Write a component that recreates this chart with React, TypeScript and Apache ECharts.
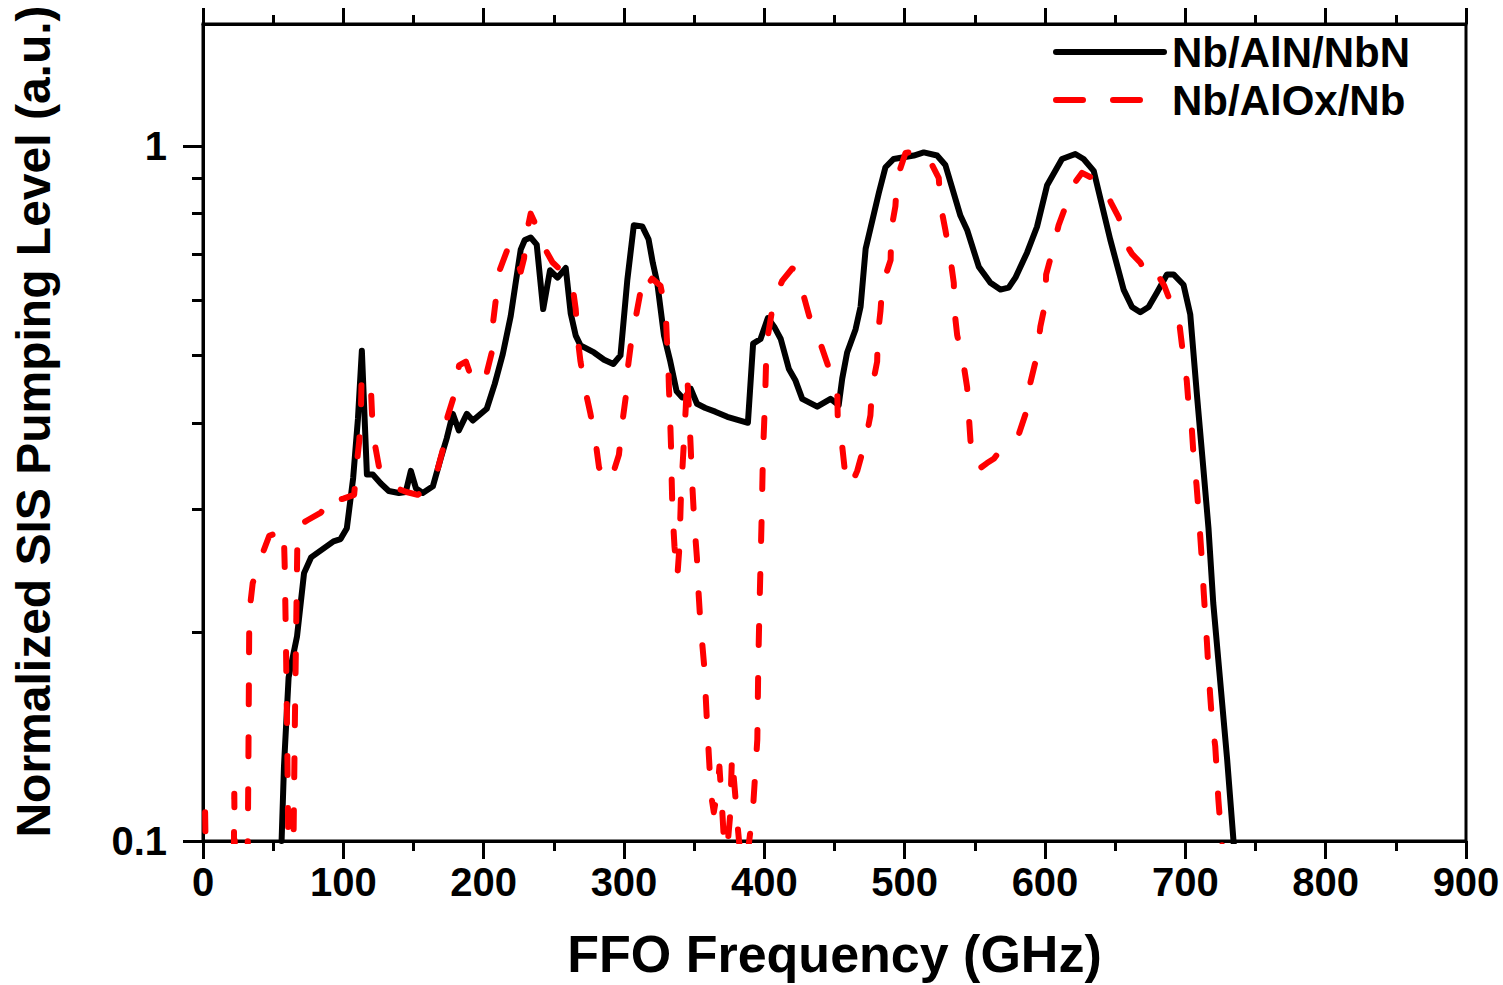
import React, { useEffect, useRef } from "react";
import * as echarts from "echarts";

// ---- Data ----
const X_TICKS = [0, 100, 200, 300, 400, 500, 600, 700, 800, 900];
const Y_LABEL_VALUES = [0.1, 1];
const Y_MINOR_TICKS = [0.2, 0.3, 0.4, 0.5, 0.6, 0.7, 0.8, 0.9];

const SERIES_NAMES = ["Nb/AlN/NbN", "Nb/AlOx/Nb"];

// Nb/AlN/NbN (black, solid)
const ALN_FREQ = [
  56, 57.7, 61, 67, 72, 77, 84, 93, 98, 102.5, 107, 110.4, 113.2, 116.8, 121, 126.7,
  132.4, 139.6, 144.5, 148.1, 151.7, 156.6, 163.8, 169.5, 173.7, 178, 182.3, 188,
  192.3, 202.2, 207.9, 213.6, 219.3, 222.5, 226.4, 229.3, 233.5, 237.8, 242.4, 247.3,
  252.6, 258.5, 262, 265.6, 269, 278.6, 285.8, 292.4, 297.5, 302.4, 307, 313, 317.5,
  320.5, 323.7, 328.5, 333, 337.5, 341.5, 344, 347.5, 352, 358, 365, 373.6, 388.3,
  392, 397.3, 402.5, 407, 411.7, 417.5, 422.2, 427, 437.7, 447.2, 453, 455.5, 459,
  465, 468.6, 472.2, 481.6, 486.3, 492.2, 506.5, 513.6, 523.1, 529, 539.7, 544.5,
  552.8, 561.1, 568.2, 574.1, 578.9, 587.2, 594.3, 601.5, 612.1, 621.6, 627.5, 634.7,
  646.5, 656, 662, 667.9, 673.8, 679.8, 686.9, 691.6, 698.7, 703.5, 708.3, 713,
  716.5, 719.9, 729.8, 734.5,
];
const ALN_LEVEL = [
  0.1, 0.128, 0.172, 0.197, 0.243, 0.256, 0.262, 0.27, 0.272, 0.282, 0.333, 0.405,
  0.508, 0.337, 0.337, 0.327, 0.319, 0.317, 0.318, 0.341, 0.322, 0.317, 0.324, 0.356,
  0.38, 0.412, 0.39, 0.412, 0.403, 0.419, 0.455, 0.502, 0.57, 0.63, 0.71, 0.733,
  0.739, 0.722, 0.583, 0.663, 0.647, 0.668, 0.575, 0.534, 0.517, 0.505, 0.493, 0.486,
  0.5, 0.643, 0.77, 0.767, 0.735, 0.68, 0.636, 0.534, 0.49, 0.444, 0.435, 0.436,
  0.448, 0.426, 0.42, 0.415, 0.408, 0.4, 0.52, 0.528, 0.566, 0.55, 0.528, 0.478,
  0.46, 0.433, 0.422, 0.433, 0.424, 0.463, 0.505, 0.545, 0.588, 0.712, 0.857, 0.933,
  0.959, 0.97, 0.98, 0.97, 0.94, 0.795, 0.758, 0.671, 0.636, 0.622, 0.626, 0.647,
  0.703, 0.766, 0.879, 0.959, 0.975, 0.959, 0.922, 0.734, 0.622, 0.587, 0.577, 0.587,
  0.616, 0.654, 0.654, 0.632, 0.573, 0.438, 0.341, 0.282, 0.22, 0.131, 0.099,
];

// Nb/AlOx/Nb (red, dashed)
const ALOX_FREQ = [
  1.5, 3, 21.5, 22.3, 23.2, 31.3, 32.3, 33, 35.4, 40.1, 47.2, 55.5, 57.5, 58.2, 59,
  60, 61, 63.5, 64.5, 65.5, 66.5, 67.4, 75, 84, 93.5, 95.9, 100, 107.7, 110.1, 111.3,
  112.5, 113, 117.3, 119.6, 120.5, 122, 125.5, 131, 136.2, 145, 153, 160, 167.1,
  171.8, 174.2, 179, 182.5, 187.3, 192, 197, 201.5, 206.3, 206.7, 208.6, 211, 218,
  222, 226.4, 228.8, 230, 233.5, 236, 240.7, 249, 256, 263.2, 265.6, 266.8, 269,
  272.7, 276, 279.8, 282.2, 287, 290.5, 296.4, 298.8, 301.2, 302.4, 304.8, 308.3,
  311.9, 313, 316.6, 320, 326, 329.7, 330.5, 331.5, 332, 332.8, 333.5, 334, 334.5,
  336, 338, 339.5, 340.5, 341.5, 342.5, 344, 345, 346, 347.5, 348.5, 349.6, 350.5,
  352, 353, 354.2, 355.5, 357, 358, 359, 360, 361, 362.5, 364, 366.5, 368, 369.5,
  371, 373.5, 375.5, 377, 378, 379.5, 381, 383, 387, 390, 392, 393.5, 395, 395.7,
  396.5, 397.5, 398.3, 399, 400.5, 401.6, 406.7, 412.7, 419.9, 423.4, 427, 433, 440,
  447, 452, 452.4, 455.5, 457.8, 461.4, 466.2, 472, 475.6, 476.8, 480.4, 480.8,
  482.8, 484, 490, 490.4, 493.4, 494.6, 500.6, 508, 514.8, 524.3, 525.5, 529, 532.6,
  535, 535.5, 537.4, 542, 544.5, 545.7, 546.9, 549, 552.8, 558.7, 563.5, 568.2, 575,
  581.3, 587.2, 589.6, 594.3, 596.7, 600.3, 600.8, 605, 609.7, 615.7, 621, 626.4,
  632.3, 641.8, 647, 652.5, 657.2, 662, 668, 672.7, 676, 679.8, 685, 689, 696, 698.5,
  701, 702.5, 704.7, 706, 708, 709.3, 710.6, 712, 713, 714.2, 715.4, 716.5, 717.7,
  719, 721.3, 722.5, 723.5, 725, 726, 729,
];
const ALOX_LEVEL = [
  0.11, 0.07, 0.07, 0.117, 0.07, 0.07, 0.125, 0.213, 0.235, 0.252, 0.275, 0.279,
  0.282, 0.25, 0.2, 0.14, 0.09, 0.07, 0.1, 0.15, 0.21, 0.284, 0.29, 0.297, 0.316,
  0.31, 0.311, 0.315, 0.357, 0.376, 0.41, 0.464, 0.466, 0.45, 0.41, 0.377, 0.345,
  0.333, 0.323, 0.318, 0.315, 0.322, 0.342, 0.372, 0.408, 0.438, 0.484, 0.49, 0.46,
  0.455, 0.466, 0.51, 0.558, 0.6, 0.66, 0.72, 0.71, 0.66, 0.69, 0.74, 0.8, 0.78,
  0.73, 0.681, 0.66, 0.632, 0.583, 0.533, 0.49, 0.443, 0.413, 0.375, 0.345, 0.33,
  0.33, 0.36, 0.4, 0.435, 0.474, 0.517, 0.566, 0.62, 0.647, 0.63, 0.645, 0.63, 0.58,
  0.53, 0.49, 0.45, 0.41, 0.37, 0.33, 0.3, 0.265, 0.24, 0.265, 0.31, 0.34, 0.37,
  0.42, 0.47, 0.43, 0.37, 0.33, 0.3, 0.28, 0.255, 0.23, 0.21, 0.195, 0.18, 0.165,
  0.15, 0.138, 0.127, 0.115, 0.11, 0.118, 0.128, 0.115, 0.102, 0.097, 0.108, 0.133,
  0.125, 0.115, 0.105, 0.095, 0.092, 0.103, 0.112, 0.125, 0.14, 0.18, 0.215, 0.26,
  0.305, 0.36, 0.43, 0.52, 0.6, 0.64, 0.667, 0.662, 0.62, 0.56, 0.52, 0.473, 0.44,
  0.398, 0.37, 0.335, 0.324, 0.341, 0.376, 0.41, 0.45, 0.49, 0.533, 0.58, 0.63,
  0.686, 0.758, 0.82, 0.9, 0.978, 0.985, 0.982, 0.9, 0.825, 0.758, 0.69, 0.636, 0.58,
  0.535, 0.485, 0.45, 0.41, 0.377, 0.355, 0.343, 0.35, 0.355, 0.365, 0.372, 0.385,
  0.418, 0.457, 0.5, 0.55, 0.596, 0.654, 0.703, 0.77, 0.83, 0.885, 0.916, 0.903,
  0.876, 0.83, 0.79, 0.726, 0.7, 0.68, 0.649, 0.66, 0.656, 0.63, 0.6, 0.55, 0.5,
  0.46, 0.42, 0.39, 0.355, 0.325, 0.3, 0.275, 0.25, 0.23, 0.21, 0.193, 0.176, 0.162,
  0.149, 0.137, 0.125, 0.115, 0.105, 0.1, 0.08,
];

const FONT = "'Liberation Sans', Arial, Helvetica, sans-serif";

function zip(xs: number[], ys: number[]) {
  return xs.map((x, i) => [x, ys[i]]);
}

export default function App() {
  const ref = useRef<HTMLDivElement>(null);

  useEffect(() => {
    if (!ref.current) return;
    const chart = echarts.init(ref.current, null, { renderer: "svg" });

    const axisLineStyle = { color: "#000", width: 3 };
    const hiddenSymbol = { opacity: 0, color: "rgba(0,0,0,0)", borderWidth: 0 };

    const xBase = {
      type: "value" as const,
      min: X_TICKS[0],
      max: X_TICKS[X_TICKS.length - 1],
      interval: X_TICKS[1] - X_TICKS[0],
      splitLine: { show: false },
      axisLine: { show: true, lineStyle: axisLineStyle },
    };

    const option: any = {
      animation: false,
      backgroundColor: "#fff",
      grid: {
        left: 203,
        right: 37,
        top: 24,
        bottom: 140,
        show: true,
        borderColor: "#000",
        borderWidth: 3,
        backgroundColor: "transparent",
      },
      legend: {
        show: true,
        orient: "vertical",
        left: 1053,
        top: 31,
        padding: 0,
        itemWidth: 108,
        itemHeight: 2,
        itemGap: 6,
        itemStyle: hiddenSymbol,
        data: [
          {
            name: SERIES_NAMES[0],
            itemStyle: hiddenSymbol,
            lineStyle: { color: "#000", width: 6, type: "solid", cap: "round" },
          },
          {
            name: SERIES_NAMES[1],
            itemStyle: hiddenSymbol,
            lineStyle: { color: "#ff0000", width: 6, type: [27, 30], cap: "round" },
          },
        ],
        textStyle: {
          fontFamily: FONT,
          fontWeight: "bold",
          fontSize: 42,
          color: "#000",
          lineHeight: 42,
          padding: [0, 0, 0, 3],
        },
      },
      xAxis: [
        {
          ...xBase,
          position: "bottom",
          axisTick: { show: true, length: 18, inside: false, lineStyle: axisLineStyle },
          minorTick: { show: true, splitNumber: 2, length: 10, lineStyle: axisLineStyle },
          axisLabel: {
            show: true,
            margin: 21,
            fontFamily: FONT,
            fontWeight: "bold",
            fontSize: 40,
            color: "#000",
          },
          name: "FFO Frequency (GHz)",
          nameLocation: "middle",
          nameGap: 87,
          nameTextStyle: {
            fontFamily: FONT,
            fontWeight: "bold",
            fontSize: 52,
            color: "#000",
          },
        },
        {
          ...xBase,
          position: "top",
          axisTick: { show: true, length: 16, inside: false, lineStyle: axisLineStyle },
          minorTick: { show: true, splitNumber: 2, length: 9, lineStyle: axisLineStyle },
          axisLabel: { show: false },
        },
      ],
      yAxis: [
        {
          type: "log",
          logBase: 10,
          min: 0.1,
          max: 1.5,
          position: "left",
          splitLine: { show: false },
          axisLine: { show: true, lineStyle: axisLineStyle },
          axisTick: {
            show: true,
            length: 20,
            inside: false,
            lineStyle: axisLineStyle,
            customValues: Y_LABEL_VALUES,
          },
          axisLabel: {
            show: true,
            margin: 36,
            fontFamily: FONT,
            fontWeight: "bold",
            fontSize: 40,
            color: "#000",
            customValues: Y_LABEL_VALUES,
            formatter: (v: number) => (Math.abs(v - 1) < 1e-9 ? "1" : "0.1"),
          },
          name: "Normalized SIS Pumping Level (a.u.)",
          nameLocation: "middle",
          nameGap: 146,
          nameTextStyle: {
            fontFamily: FONT,
            fontWeight: "bold",
            fontSize: 48,
            color: "#000",
            padding: [0, 0, 0, 22],
          },
        },
        {
          type: "log",
          logBase: 10,
          min: 0.1,
          max: 1.5,
          position: "left",
          splitLine: { show: false },
          axisLine: { show: false },
          axisLabel: { show: false },
          axisTick: {
            show: true,
            length: 11,
            inside: false,
            lineStyle: axisLineStyle,
            customValues: Y_MINOR_TICKS,
          },
        },
      ],
      series: [
        {
          name: SERIES_NAMES[0],
          type: "line",
          xAxisIndex: 0,
          yAxisIndex: 0,
          data: zip(ALN_FREQ, ALN_LEVEL),
          symbol: "none",
          clip: true,
          lineStyle: { color: "#000", width: 6, type: "solid", join: "round", cap: "round" },
          itemStyle: { color: "#000" },
          z: 3,
        },
        {
          name: SERIES_NAMES[1],
          type: "line",
          xAxisIndex: 0,
          yAxisIndex: 0,
          data: zip(ALOX_FREQ, ALOX_LEVEL),
          symbol: "none",
          clip: true,
          lineStyle: { color: "#ff0000", width: 6, type: [19, 33], join: "round", cap: "round" },
          itemStyle: { color: "#ff0000" },
          z: 4,
        },
      ],
    };

    chart.setOption(option);
    return () => {
      chart.dispose();
    };
  }, []);

  return (
    <div
      ref={ref}
      style={{ position: "absolute", left: 0, top: 0, width: 1503, height: 985, background: "#fff" }}
    />
  );
}
